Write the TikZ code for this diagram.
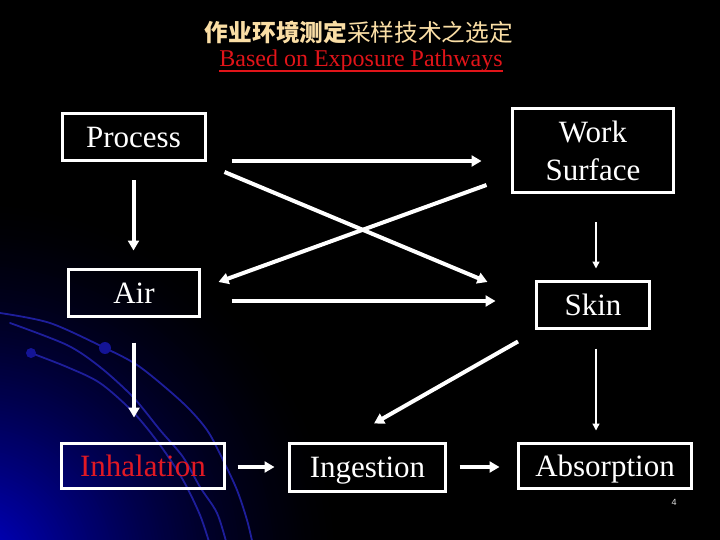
\documentclass[tikz,border=0pt]{standalone}
\usepackage{fontspec}
\setmainfont{Liberation Serif}
\newfontfamily\cjk{Noto Sans CJK SC}
\newfontfamily\pgnum{Liberation Sans}
\usetikzlibrary{arrows.meta,calc}
\definecolor{titlecol}{RGB}{250,222,165}
\definecolor{titlered}{RGB}{225,20,25}
\definecolor{inhred}{RGB}{225,25,35}
\definecolor{arcblue}{RGB}{30,30,155}
\definecolor{dotblue}{RGB}{20,20,150}
\tikzset{
  box/.style={draw=white, line width=3pt, inner sep=0pt, text=white,
    font=\fontsize{31}{38}\selectfont, text depth=0pt, align=center},
  thickarr/.style={draw=white, line width=4pt, -{Triangle[length=10pt,width=11pt]}},
  thinarr/.style={draw=white, line width=1.4pt, -{Triangle[length=7pt,width=7pt]}},
  arcline/.style={draw=arcblue, line width=1.8pt, line cap=round},
}
\begin{document}
\begin{tikzpicture}[x=1pt,y=-1pt]
\useasboundingbox (0,0) rectangle (720,540);
\fill[black] (0,0) rectangle (720,540);
\begin{scope}
\clip (0,0) rectangle (720,540);
\foreach \k in {1,...,120}{
  \pgfmathsetmacro\r{380*(1-\k/120)+1}
  \pgfmathtruncatemacro\b{210*pow(\k/120,1.6)}
  \definecolor{bgk}{RGB}{0,0,\b}
  \fill[bgk] (-30,570) circle (\r pt);
}
\draw[arcline] plot[smooth] coordinates {(0,313) (50,323) (105,348) (140,367) (183,403) (207,430) (223,460) (237,490) (247,520) (253,545)};
\draw[arcline] plot[smooth] coordinates {(10,323) (67,345) (100,367) (133,397) (160,430) (183,457) (200,487) (217,513) (227,545)};
\draw[arcline] plot[smooth] coordinates {(31,353) (67,367) (100,383) (133,412) (160,445) (183,480) (200,515) (210,545)};
\fill[dotblue] (105,348) circle (6pt);
\fill[dotblue] (31,353) circle (5pt);
\end{scope}

% titles
\node[font=\fontsize{23.7}{28}\selectfont, text=titlecol, inner sep=0pt] (title) at (359,32)
  {\cjk\textbf{作业环境测定}采样技术之选定};
\node[font=\fontsize{24}{28}\selectfont, text=titlered, inner sep=0pt, anchor=base] (sub) at (361,67)
  {Based on Exposure Pathways};
\draw[titlered, line width=1.5pt] ($(sub.base west)+(0,4)$) -- ($(sub.base east)+(0,4)$);

% boxes
\node[box, minimum width=143pt, minimum height=47pt] (proc) at (133.5,137) {Process};
\node[box, minimum width=131pt, minimum height=47pt] (air) at (134,293) {Air};
\node[box, minimum width=161pt, minimum height=84pt] (work) at (593,150.5) {Work\\Surface};
\node[box, minimum width=113pt, minimum height=47pt] (skin) at (593,305) {Skin};
\node[box, minimum width=163pt, minimum height=45pt, text=inhred] (inh) at (143,466) {Inhalation};
\node[box, minimum width=156pt, minimum height=48pt] (ing) at (367.5,467.5) {Ingestion};
\node[box, minimum width=173pt, minimum height=45pt] (abs) at (605,466) {Absorption};

% connectors
\draw[thickarr] ($(proc.south)+(0,18.5)$) -- ($(proc.south |- air.north)+(0,-17.5)$);
\draw[thickarr] ($(proc.east)+(25,24)$) -- ($(work.west)+(-29.5,10.5)$);
\draw[thickarr] ($(proc.east)+(18,35)$) -- ($(skin.west)+(-47.5,-23)$);
\draw[thickarr] ($(work.west)+(-24.5,34.5)$) -- ($(air.east)+(17.5,-11)$);
\draw[thickarr] ($(air.east)+(30.5,8)$) -- ($(skin.west)+(-39.5,-4)$);
\draw[thinarr] ($(work.south)+(3,28.5)$) -- ($(skin.north)+(3,-11.5)$);
\draw[thickarr] ($(skin.south)+(-75,11.5)$) -- ($(ing.north)+(6.5,-18.5)$);
\draw[thinarr] ($(skin.south)+(3,18.5)$) -- ($(abs.north)+(-9,-11.5)$);
\draw[thickarr] ($(air.south)+(0,24.5)$) -- ($(inh.north)+(-9,-24.5)$);
\draw[thickarr] ($(inh.east)+(11.5,1)$) -- ($(ing.west)+(-13.5,-0.5)$);
\draw[thickarr] ($(ing.east)+(12.5,-0.5)$) -- ($(abs.west)+(-17.5,1)$);

\node[font=\pgnum\fontsize{9}{10}\selectfont, text=white!88!black, inner sep=0pt] (pg) at (674,502) {4};
\end{tikzpicture}
\end{document}
